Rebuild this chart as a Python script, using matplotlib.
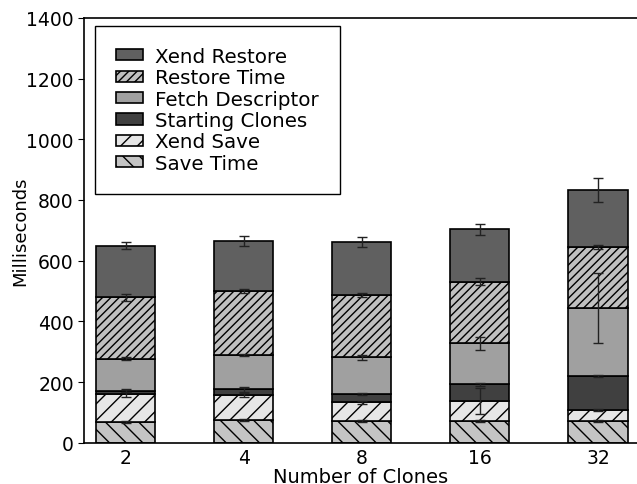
import numpy as np
import matplotlib.pyplot as plt

# valores (ms)
clones = ['2', '4', '8', '16', '32']
save_time = np.array([68, 75, 72, 71, 71])
xend_save = np.array([92, 82, 61, 66, 36])
starting = np.array([11, 19, 28, 55, 112])
fetch_desc = np.array([105, 113, 120, 135, 224])
restore_time = np.array([203, 210, 206, 204, 202])
xend_restore = np.array([170, 166, 174, 172, 189])

err_save_time = np.array([3, 3, 3, 3, 3])
err_xend_save = np.array([8, 8, 4, 42, 3])
err_starting = np.array([5, 8, 3, 5, 3])
err_fetch = np.array([5, 3, 8, 20, 115])
err_restore = np.array([12, 7, 8, 12, 8])
err_xend_restore = np.array([12, 17, 16, 18, 40])

series = [
    ('Save Time', save_time, err_save_time, '#c4c4c4', '\\\\'),
    ('Xend Save', xend_save, err_xend_save, '#e6e6e6', '//'),
    ('Starting Clones', starting, err_starting, '#404040', None),
    ('Fetch Descriptor', fetch_desc, err_fetch, '#a0a0a0', None),
    ('Restore Time', restore_time, err_restore, '#c0c0c0', '////'),
    ('Xend Restore', xend_restore, err_xend_restore, '#606060', None),
]

plt.rcParams['hatch.linewidth'] = 1.0
fig = plt.figure(figsize=(6.37, 4.85), dpi=100)
ax = fig.add_axes([0.1323, 0.0852, 0.8677, 0.8757])

x = np.arange(len(clones))
bottom = np.zeros(len(clones))
handles = []
for name, vals, err, color, hatch in series:
    b = ax.bar(x, vals, 0.5, bottom=bottom, color=color, edgecolor='black',
               linewidth=1.2, hatch=hatch, label=name)
    handles.append(b)
    bottom = bottom + vals
    ax.errorbar(x, bottom, yerr=err, fmt='none', ecolor='#222222',
                elinewidth=1.0, capsize=3.5, capthick=1.0)

ax.set_xlim(-0.35, 4.33)
ax.set_ylim(0, 1400)
ax.set_xticks(x)
ax.set_xticklabels(clones)
ax.tick_params(axis='x', length=0, labelsize=13.5, pad=4)
ax.tick_params(axis='y', direction='out', length=4, labelsize=13.5, right=False)
ax.spines['right'].set_visible(False)
for s in ['left', 'top', 'bottom']:
    ax.spines[s].set_linewidth(1.2)
ax.set_xlabel('Number of Clones', fontsize=14, labelpad=0)
ax.set_ylabel('Milliseconds', fontsize=13, labelpad=-2)

leg = ax.legend(handles[::-1], [s[0] for s in series][::-1], loc='upper left',
                bbox_to_anchor=(0.019, 0.981), fontsize=14.3, fancybox=False,
                edgecolor='black', framealpha=1, borderpad=1.05,
                labelspacing=0.12, handlelength=1.4, handleheight=0.5,
                handletextpad=0.6, borderaxespad=0)
leg.get_frame().set_linewidth(1.0)

fig.savefig('out.png', dpi=100)
